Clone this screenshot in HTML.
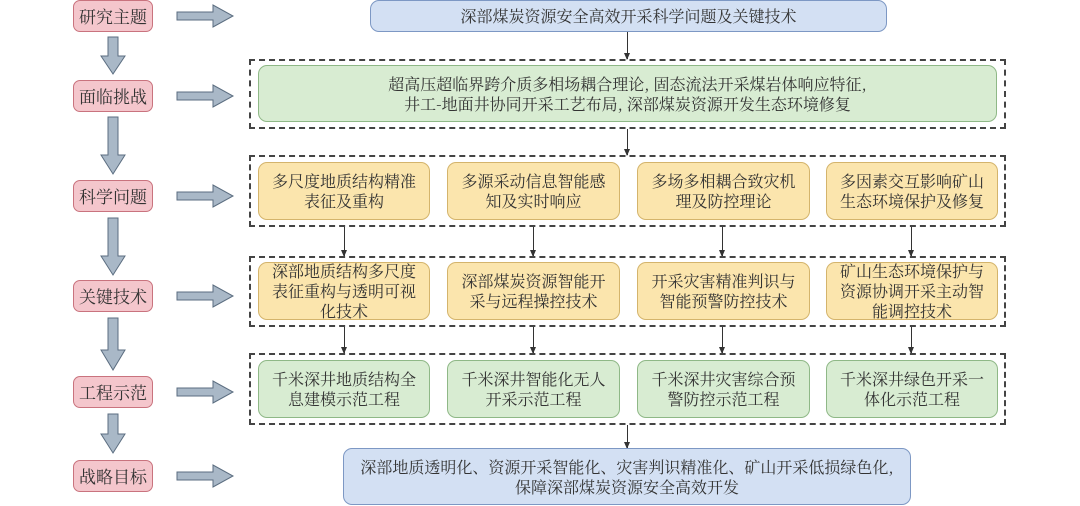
<!DOCTYPE html>
<html><head><meta charset="utf-8"><style>
body{margin:0;width:1080px;height:506px;background:#fff;position:relative;overflow:hidden;font-family:"Noto Serif CJK SC","Liberation Serif",serif;color:#333;}
.b{position:absolute;box-sizing:border-box;display:flex;align-items:center;justify-content:center;text-align:center;font-size:16px;line-height:20px;border-radius:9px;}
.p{left:73px;width:80px;height:32px;background:#f4c6cc;border:1px solid #c9737e;border-radius:7px;font-size:17px;}
.g{background:#d8ecd2;border:1px solid #8fb887;}
.y{background:#fbe5ad;border:1px solid #d4b46c;}
.bl{background:#d3e0f3;border:1px solid #7d98c4;}
.d{position:absolute;box-sizing:border-box;border:2px dashed #444;left:249px;width:757px;}
.v{position:absolute;width:1px;background:#333;}
.v:after{content:"";position:absolute;bottom:-1px;left:-3px;border-left:3.5px solid transparent;border-right:3.5px solid transparent;border-top:7px solid #333;}
</style></head><body>
<svg style="position:absolute;left:0;top:0" width="1080" height="506">
<defs>
<g id="ra"><path d="M0,-4 H36 V-11 L56,0 L36,11 V4 H0 Z" fill="#a9b8c7" stroke="#5b6d80" stroke-width="1"/></g>
</defs>
<use href="#ra" x="177" y="16"/><use href="#ra" x="177" y="96"/><use href="#ra" x="177" y="196"/><use href="#ra" x="177" y="296"/><use href="#ra" x="177" y="392"/><use href="#ra" x="177" y="476"/>
<g fill="#a9b8c7" stroke="#5b6d80" stroke-width="1">
<path d="M108,37 H118 V56 H125 L113,74 L101,56 H108 Z"/>
<path d="M108,117 H118 V155 H125 L113,174 L101,155 H108 Z"/>
<path d="M108,218 H118 V256 H125 L113,275 L101,256 H108 Z"/>
<path d="M108,318 H118 V350 H125 L113,370 L101,350 H108 Z"/>
<path d="M108,414 H118 V434 H125 L113,453 L101,434 H108 Z"/>
</g>
</svg>
<div class="b p" style="top:0">研究主题</div>
<div class="b p" style="top:80px">面临挑战</div>
<div class="b p" style="top:180px">科学问题</div>
<div class="b p" style="top:280px">关键技术</div>
<div class="b p" style="top:376px">工程示范</div>
<div class="b p" style="top:460px">战略目标</div>

<div class="b bl" style="left:370px;top:0;width:517px;height:32px">深部煤炭资源安全高效开采科学问题及关键技术</div>
<div class="v" style="left:627px;top:32px;height:27px"></div>

<div class="d" style="top:59px;height:70px"></div>
<div class="b g" style="left:258px;top:65px;width:739px;height:57px">超高压超临界跨介质多相场耦合理论, 固态流法开采煤岩体响应特征,<br>井工-地面井协同开采工艺布局, 深部煤炭资源开发生态环境修复</div>
<div class="v" style="left:627px;top:129px;height:26px"></div>

<div class="d" style="top:155px;height:72px"></div>
<div class="b y" style="left:258px;top:162px;width:172px;height:58px">多尺度地质结构精准<br>表征及重构</div>
<div class="b y" style="left:447px;top:162px;width:173px;height:58px">多源采动信息智能感<br>知及实时响应</div>
<div class="b y" style="left:637px;top:162px;width:173px;height:58px">多场多相耦合致灾机<br>理及防控理论</div>
<div class="b y" style="left:826px;top:162px;width:172px;height:58px">多因素交互影响矿山<br>生态环境保护及修复</div>
<div class="v" style="left:344px;top:227px;height:29px"></div>
<div class="v" style="left:533px;top:227px;height:29px"></div>
<div class="v" style="left:722px;top:227px;height:29px"></div>
<div class="v" style="left:911px;top:227px;height:29px"></div>

<div class="d" style="top:256px;height:71px"></div>
<div class="b y" style="left:258px;top:262px;width:172px;height:58px">深部地质结构多尺度<br>表征重构与透明可视<br>化技术</div>
<div class="b y" style="left:447px;top:262px;width:173px;height:58px">深部煤炭资源智能开<br>采与远程操控技术</div>
<div class="b y" style="left:637px;top:262px;width:173px;height:58px">开采灾害精准判识与<br>智能预警防控技术</div>
<div class="b y" style="left:826px;top:262px;width:172px;height:58px">矿山生态环境保护与<br>资源协调开采主动智<br>能调控技术</div>
<div class="v" style="left:344px;top:327px;height:26px"></div>
<div class="v" style="left:533px;top:327px;height:26px"></div>
<div class="v" style="left:722px;top:327px;height:26px"></div>
<div class="v" style="left:911px;top:327px;height:26px"></div>

<div class="d" style="top:353px;height:72px"></div>
<div class="b g" style="left:258px;top:360px;width:172px;height:58px">千米深井地质结构全<br>息建模示范工程</div>
<div class="b g" style="left:447px;top:360px;width:173px;height:58px">千米深井智能化无人<br>开采示范工程</div>
<div class="b g" style="left:637px;top:360px;width:173px;height:58px">千米深井灾害综合预<br>警防控示范工程</div>
<div class="b g" style="left:826px;top:360px;width:172px;height:58px">千米深井绿色开采一<br>体化示范工程</div>
<div class="v" style="left:627px;top:425px;height:23px"></div>

<div class="b bl" style="left:343px;top:448px;width:568px;height:57px">深部地质透明化、资源开采智能化、灾害判识精准化、矿山开采低损绿色化,<br>保障深部煤炭资源安全高效开发</div>
</body></html>
